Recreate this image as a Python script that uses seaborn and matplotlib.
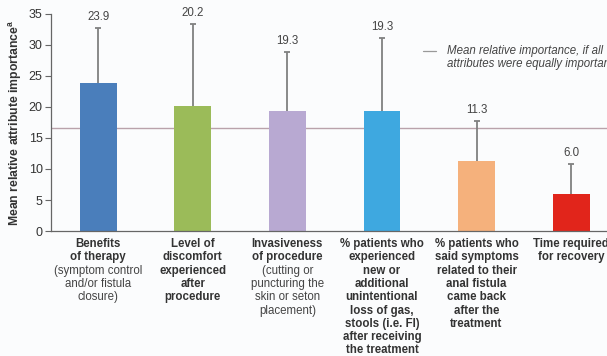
import matplotlib
matplotlib.use("Agg")
import matplotlib.pyplot as plt
import seaborn as sns
import pandas as pd

# Attribute importance data
attributes = ["Benefits", "Discomfort", "Invasiveness", "FI", "Recurrence", "Recovery"]
mean_importance = [23.9, 20.2, 19.3, 19.3, 11.3, 6.0]
sd_importance = [8.9, 13.2, 9.5, 11.8, 6.5, 4.8]
equal_importance = 100 / 6

bar_colors = ["#4a7ebb", "#9bbb59", "#b8a9d2", "#3ea8e0", "#f5b17c", "#e1251b"]

# Category label lines: (text, bold)
label_lines = [
    [("Benefits", True), ("of therapy", True), ("(symptom control", False),
     ("and/or fistula", False), ("closure)", False)],
    [("Level of", True), ("discomfort", True), ("experienced", True),
     ("after", True), ("procedure", True)],
    [("Invasiveness", True), ("of procedure", True), ("(cutting or", False),
     ("puncturing the", False), ("skin or seton", False), ("placement)", False)],
    [("% patients who", True), ("experienced", True), ("new or", True),
     ("additional", True), ("unintentional", True), ("loss of gas,", True),
     ("stools (i.e. FI)", True), ("after receiving", True), ("the treatment", True)],
    [("% patients who", True), ("said symptoms", True), ("related to their", True),
     ("anal fistula", True), ("came back", True), ("after the", True),
     ("treatment", True)],
    [("Time required", True), ("for recovery", True)],
]

sns.set_theme(style="white")
plt.rcParams["font.family"] = ["Liberation Sans", "DejaVu Sans"]

df = pd.DataFrame({"attribute": attributes, "importance": mean_importance})

fig = plt.figure(figsize=(6.07, 3.56), dpi=100)
fig.patch.set_facecolor("#fbfcfd")
ax = fig.add_axes([0.084, 0.351, 0.916, 0.610])
ax.set_facecolor("#fbfcfd")

sns.barplot(data=df, x="attribute", y="importance", hue="attribute",
            palette=bar_colors, legend=False, width=0.39, ax=ax,
            saturation=1, edgecolor="none")

# Upper-only error bars (stem + top cap)
xs = list(range(len(attributes)))
tops = [m + s for m, s in zip(mean_importance, sd_importance)]
ax.vlines(xs, mean_importance, tops, colors="#808080", lw=1.3, zorder=3)
ax.plot(xs, tops, linestyle="none", marker="_", markersize=5, mew=1.3,
        color="#808080", zorder=3)

# Value labels above error bars
for x, m, t in zip(xs, mean_importance, tops):
    ax.annotate(f"{m:.1f}", xy=(x, t), xytext=(0, 3.5), textcoords="offset points",
                ha="center", va="bottom", fontsize=8.3, color="#444444")

# Equal-importance reference line
ax.axhline(equal_importance, color="#b9a2ab", lw=1.0, zorder=0.5)

ax.set_xlim(-0.5, 5.38)
ax.set_ylim(0, 35)
ax.set_yticks(range(0, 36, 5))
ax.tick_params(axis="y", which="both", left=True, length=4, width=0.8,
               color="#666666", labelsize=9, labelcolor="#333333", pad=2)
ax.tick_params(axis="x", bottom=False, labelbottom=False)
ax.set_xlabel("")
ax.set_ylabel("Mean relative attribute importance$^{\\mathregular{a}}$",
              fontsize=8.8, fontweight="bold", color="#333333", labelpad=3)

for side in ["top", "right"]:
    ax.spines[side].set_visible(False)
for side in ["left", "bottom"]:
    ax.spines[side].set_color("#666666")
    ax.spines[side].set_linewidth(0.9)

# Multi-line category labels with mixed weights
px_to_pt = 72 / fig.dpi
for x, lines in zip(xs, label_lines):
    for k, (txt, bold) in enumerate(lines):
        ax.annotate(txt, xy=(x, 0), xycoords=("data", "data"),
                    xytext=(0, -(13 + 13.3 * k) * px_to_pt),
                    textcoords="offset points", ha="center", va="center",
                    fontsize=8.3, fontweight="bold" if bold else "normal",
                    color="#333333" if bold else "#444444", annotation_clip=False)

# Legend entry for the reference line
leg_x0, leg_x1, leg_y = 423 / 607, 436 / 607, 1 - 50.7 / 356
fig.add_artist(plt.Line2D([leg_x0, leg_x1], [leg_y, leg_y], transform=fig.transFigure,
                          color="#999999", lw=0.9))
fig.text(447 / 607, leg_y, "Mean relative importance, if all", fontsize=8.3,
         style="italic", color="#444444", va="center", ha="left")
fig.text(447 / 607, 1 - 64 / 356, "attributes were equally important", fontsize=8.3,
         style="italic", color="#444444", va="center", ha="left")

fig.savefig("out.png", dpi=100, facecolor=fig.get_facecolor())
